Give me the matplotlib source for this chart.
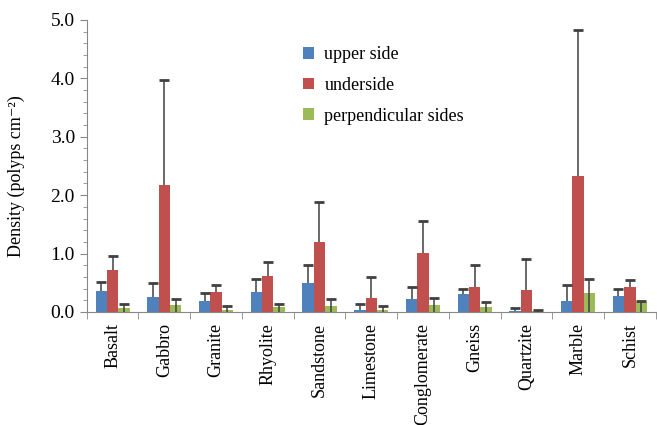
import numpy as np
import matplotlib
matplotlib.use('Agg')
import matplotlib.pyplot as plt
from matplotlib.ticker import MultipleLocator

plt.rcParams['font.family'] = ['Liberation Serif', 'DejaVu Serif']

# Дані
rocks = ['Basalt', 'Gabbro', 'Granite', 'Rhyolite', 'Sandstone', 'Limestone',
         'Conglomerate', 'Gneiss', 'Quartzite', 'Marble', 'Schist']
upper = [0.36, 0.26, 0.18, 0.34, 0.49, 0.03, 0.22, 0.30, 0.01, 0.19, 0.27]
upper_err = [0.15, 0.24, 0.15, 0.23, 0.31, 0.11, 0.20, 0.10, 0.06, 0.27, 0.13]
under = [0.72, 2.18, 0.35, 0.61, 1.19, 0.24, 1.01, 0.42, 0.38, 2.33, 0.42]
under_err = [0.24, 1.80, 0.12, 0.25, 0.69, 0.36, 0.54, 0.39, 0.52, 2.50, 0.13]
perp = [0.06, 0.12, 0.04, 0.08, 0.10, 0.03, 0.12, 0.09, 0.02, 0.33, 0.17]
perp_err = [0.07, 0.10, 0.06, 0.06, 0.12, 0.08, 0.12, 0.08, 0.01, 0.24, 0.01]

labels = ['upper side', 'underside', 'perpendicular sides']
colors = ['#4F81BD', '#C0504D', '#9BBB59']

fig = plt.figure(figsize=(6.57, 4.25), dpi=100)
ax = fig.add_axes([0.132, 0.266, 0.866, 0.687])

x = np.arange(len(rocks))
w = 0.22
series = [(upper, upper_err), (under, under_err), (perp, perp_err)]
for i, (vals, errs) in enumerate(series):
    xs = x + (i - 1) * w
    vals = np.array(vals)
    tops = vals + np.array(errs)
    ax.bar(xs, vals, w, color=colors[i], label=labels[i], zorder=2)
    # лінія похибки (у зелених стовпцях видно лінію через весь стовпець)
    start = np.zeros(len(vals)) if i == 2 else vals
    ax.vlines(xs, start, tops, color='#404040', lw=1.1, zorder=3)
    ax.plot(xs, tops, ls='none', marker='_', ms=7, mew=2, color='#404040', zorder=3)

ax.set_xlim(-0.5, len(rocks) - 0.5)
ax.set_ylim(0, 5.0)
ax.yaxis.set_major_locator(MultipleLocator(1.0))
ax.yaxis.set_minor_locator(MultipleLocator(0.2))
ax.set_yticks(np.arange(0, 5.01, 1.0))
ax.set_yticklabels(['%.1f' % v for v in np.arange(0, 5.01, 1.0)])
ax.set_xticks(x)
ax.set_xticklabels(rocks, rotation=90, fontsize=13)
ax.set_xticks(np.arange(len(rocks) + 1) - 0.5, minor=True)
ax.tick_params(axis='x', which='major', length=0, pad=8)
ax.tick_params(axis='x', which='minor', length=5, color='#888888')
ax.tick_params(axis='y', which='major', length=5, labelsize=14, color='#888888')
ax.tick_params(axis='y', which='minor', length=3, color='#888888')

for s in ['top', 'right']:
    ax.spines[s].set_visible(False)
for s in ['left', 'bottom']:
    ax.spines[s].set_color('#888888')

ax.set_ylabel('Density (polyps cm⁻²)', fontsize=13)
ax.yaxis.set_label_coords(-0.109, 0.466)

ax.legend(loc='upper left', bbox_to_anchor=(0.351, 0.965), frameon=False,
          fontsize=13, handlelength=0.6, handleheight=0.6, labelspacing=0.75,
          handletextpad=0.6)

plt.savefig('out.png', dpi=100)
